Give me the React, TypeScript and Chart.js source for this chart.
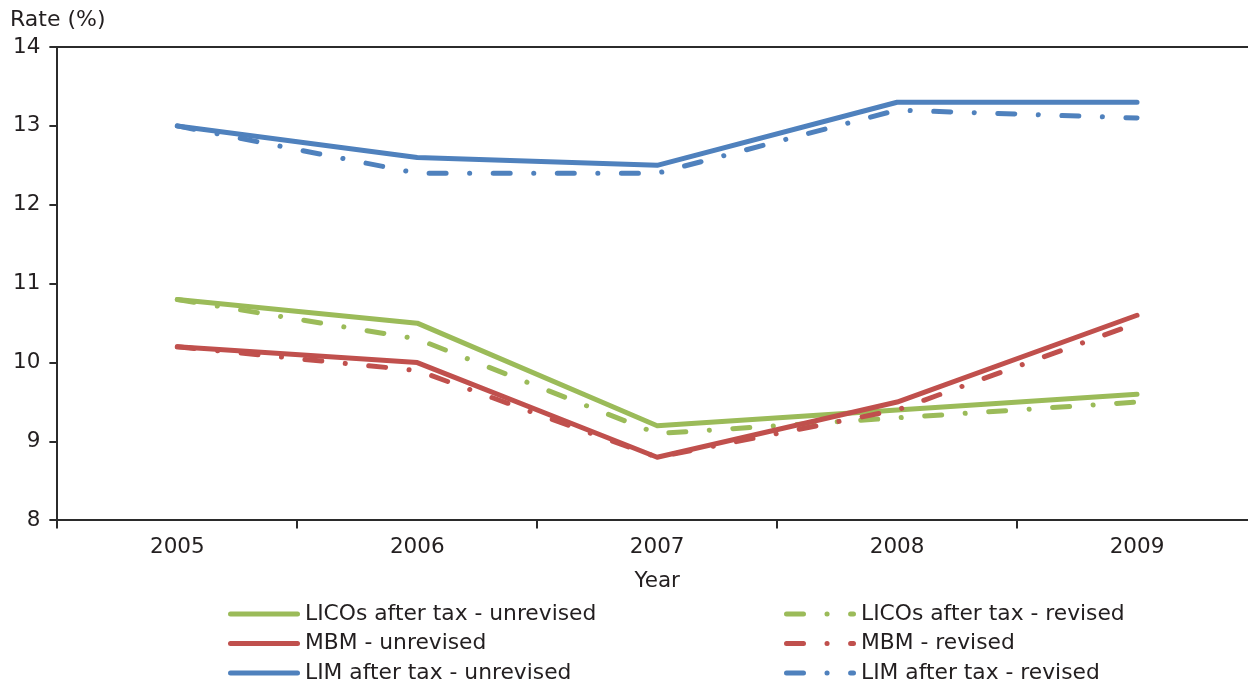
import React, { useEffect, useRef } from "react";
import { Chart, registerables } from "chart.js";

Chart.register(...registerables);

const years = ["2005", "2006", "2007", "2008", "2009"];
const licoUnrevised = [10.8, 10.5, 9.2, 9.4, 9.6];
const licoRevised = [10.8, 10.3, 9.1, 9.3, 9.5];
const mbmUnrevised = [10.2, 10.0, 8.8, 9.5, 10.6];
const mbmRevised = [10.2, 9.9, 8.8, 9.4, 10.5];
const limUnrevised = [13.0, 12.6, 12.5, 13.3, 13.3];
const limRevised = [13.0, 12.4, 12.4, 13.2, 13.1];
const seriesLabels = [
  "LICOs after tax - unrevised",
  "LICOs after tax - revised",
  "MBM - unrevised",
  "MBM - revised",
  "LIM after tax - unrevised",
  "LIM after tax - revised",
];
const yTitle = "Rate (%)";
const xTitle = "Year";
const yMin = 8;
const yMax = 14;

const GREEN = "#9bbb59";
const RED = "#c0504d";
const BLUE = "#4f81bd";
const TEXT = "#231f20";
const AXIS = "#2b2b2b";
const FONT = "'DejaVu Sans', Verdana, sans-serif";
const DASH = [17, 23.5, 0.1, 23.5];

const legendPlugin = {
  id: "customLegend",
  afterDraw(chart: any) {
    const ctx = chart.ctx;
    ctx.save();
    const cols = [228, 784];
    const rows = [614, 643.5, 673];
    chart.data.datasets.forEach((ds: any, i: number) => {
      const x = cols[i % 2];
      const y = rows[Math.floor(i / 2)];
      ctx.strokeStyle = ds.borderColor;
      ctx.lineWidth = 5;
      ctx.lineCap = "round";
      ctx.setLineDash(ds.borderDash || []);
      ctx.beginPath();
      ctx.moveTo(x + 2.5, y);
      ctx.lineTo(x + 69.5, y);
      ctx.stroke();
      ctx.setLineDash([]);
      ctx.fillStyle = TEXT;
      ctx.font = `21.8px ${FONT}`;
      ctx.textBaseline = "middle";
      ctx.textAlign = "left";
      ctx.fillText(ds.label, x + 77, y);
    });
    ctx.font = `22px ${FONT}`;
    ctx.fillStyle = TEXT;
    ctx.textBaseline = "middle";
    ctx.fillText(yTitle, 10, 20);
    ctx.restore();
  },
};

function makeDataset(label: string, data: number[], color: string, dashed: boolean, order: number) {
  return {
    label,
    data,
    borderColor: color,
    backgroundColor: color,
    borderWidth: 5,
    borderDash: dashed ? DASH : [],
    borderCapStyle: "round",
    borderJoinStyle: "round",
    pointRadius: 0,
    pointHoverRadius: 0,
    tension: 0,
    fill: false,
    order,
  };
}

export default function App() {
  const ref = useRef<HTMLCanvasElement | null>(null);
  useEffect(() => {
    if (!ref.current) return;
    const all = [licoUnrevised, licoRevised, mbmUnrevised, mbmRevised, limUnrevised, limRevised];
    const colors = [GREEN, GREEN, RED, RED, BLUE, BLUE];
    const chart = new Chart(ref.current, {
      type: "line",
      data: {
        labels: years,
        datasets: all.map((d, i) =>
          makeDataset(seriesLabels[i], d, colors[i], i % 2 === 1, 10 - i)
        ) as any,
      },
      options: {
        animation: false,
        responsive: false,
        maintainAspectRatio: false,
        layout: { padding: { left: 4, top: 47, right: 5, bottom: 90 } },
        plugins: {
          legend: { display: false },
          tooltip: { enabled: false },
          title: { display: false },
        },
        scales: {
          x: {
            type: "category",
            offset: true,
            grid: {
              offset: true,
              drawOnChartArea: false,
              drawTicks: true,
              tickLength: 8,
              color: AXIS,
              lineWidth: 2,
            },
            border: { color: AXIS, width: 2 },
            ticks: { color: TEXT, font: { family: FONT, size: 21.5 }, padding: 6 },
            title: {
              display: true,
              text: xTitle,
              color: TEXT,
              font: { family: FONT, size: 21.5 },
              padding: { top: 2, bottom: 0 },
            },
          },
          y: {
            min: yMin,
            max: yMax,
            ticks: { stepSize: 1, color: TEXT, font: { family: FONT, size: 21.5 }, padding: 9 },
            grid: {
              color: (c: any) => (c.tick && c.tick.value === yMax ? AXIS : "rgba(0,0,0,0)"),
              tickColor: AXIS,
              lineWidth: 2,
              tickLength: 8,
              drawTicks: true,
            },
            border: { color: AXIS, width: 2 },
          },
        },
      },
      plugins: [legendPlugin],
    });
    return () => chart.destroy();
  }, []);
  return (
    <div style={{ position: "fixed", left: 0, top: 0, width: 1248, height: 684, overflow: "hidden", background: "#fff" }}>
      <canvas ref={ref} width={1262} height={684} style={{ display: "block", width: 1262, height: 684 }} />
    </div>
  );
}
